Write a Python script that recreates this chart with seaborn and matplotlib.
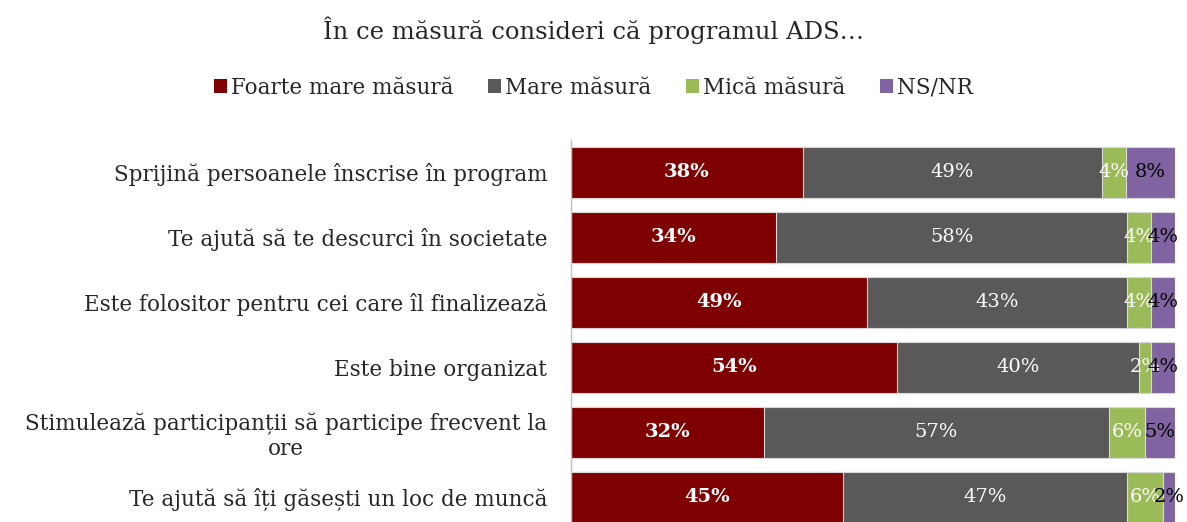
import matplotlib
matplotlib.use("Agg")
import matplotlib.pyplot as plt
import seaborn as sns
import pandas as pd
import numpy as np
from matplotlib.patches import Patch

categories = [
    "Sprijină persoanele înscrise în program",
    "Te ajută să te descurci în societate",
    "Este folositor pentru cei care îl finalizează",
    "Este bine organizat",
    "Stimulează participanții să participe frecvent la\nore",
    "Te ajută să îți găsești un loc de muncă",
]
series = ["Foarte mare măsură", "Mare măsură", "Mică măsură", "NS/NR"]
foarte_mare = [38, 34, 49, 54, 32, 45]
mare = [49, 58, 43, 40, 57, 47]
mica = [4, 4, 4, 2, 6, 6]
nsnr = [8, 4, 4, 4, 5, 2]
colors = ["#7F0000", "#595959", "#9BBB59", "#8064A2"]
label_colors = ["white", "white", "white", "black"]

sns.set_style("white")
plt.rcParams["font.family"] = ["DejaVu Serif"]

df = pd.DataFrame({"cat": categories, series[0]: foarte_mare, series[1]: mare,
                   series[2]: mica, series[3]: nsnr})
vals = df[series].to_numpy(dtype=float)
shares = vals / vals.sum(axis=1, keepdims=True) * 100
cum = np.cumsum(shares, axis=1)

fig = plt.figure(figsize=(11.87, 5.22), dpi=100)
ax = fig.add_axes([0.481, -0.0144, 0.509, 0.747])

# stacked bars: draw cumulative totals from the last series to the first
for i in range(len(series) - 1, -1, -1):
    d = pd.DataFrame({"cat": categories, "v": cum[:, i]})
    sns.barplot(data=d, y="cat", x="v", color=colors[i], orient="h", width=0.785,
                edgecolor="#D9D9D9", linewidth=0.8, saturation=1, ax=ax)

for r in range(len(categories)):
    for i in range(len(series)):
        start = cum[r, i] - shares[r, i]
        ax.text(start + shares[r, i] / 2, r, f"{vals[r, i]:.0f}%", ha="center", va="center",
                color=label_colors[i], fontsize=14,
                fontweight="bold" if i == 0 else "normal")

ax.set_xlim(0, 100)
ax.set_ylim(5.5, -0.5)
ax.set_xlabel("")
ax.set_ylabel("")
ax.set_xticks([])
ax.tick_params(axis="y", length=0, pad=17, labelsize=15.5)
for lbl in ax.get_yticklabels():
    lbl.set_multialignment("center")
for s in ["top", "right", "bottom"]:
    ax.spines[s].set_visible(False)
ax.spines["left"].set_color("#BFBFBF")
ax.spines["left"].set_linewidth(1)

fig.text(0.5, 0.943, "În ce măsură consideri că programul ADS…", ha="center", va="center", fontsize=17.5)
handles = [Patch(facecolor=c, edgecolor="none") for c in colors]
fig.legend(handles, series, loc="center", bbox_to_anchor=(0.5, 0.832), ncol=4, frameon=False,
           fontsize=15.5, handlelength=0.6, handleheight=0.6, handletextpad=0.2, columnspacing=1.6)

fig.savefig("out.png", dpi=100)
